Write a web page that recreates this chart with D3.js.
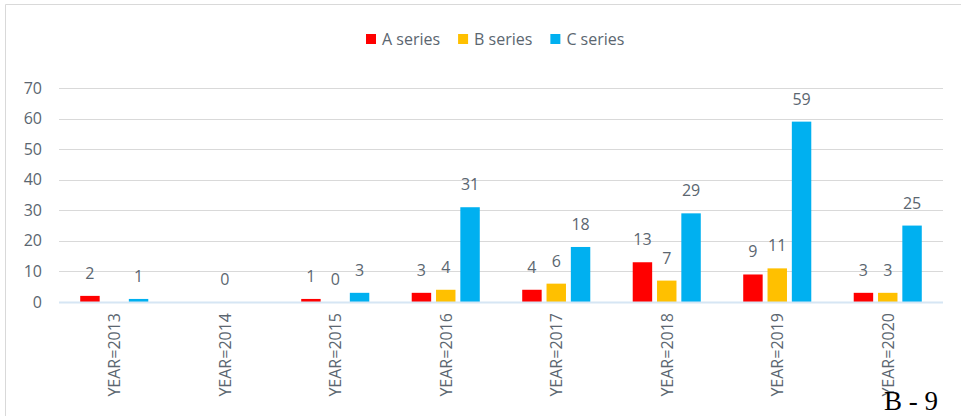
<!DOCTYPE html>
<html lang="en">

<head>
    <meta charset="utf-8">
    <script src="https://d3js.org/d3.v7.min.js"></script>
    <style>
        body { margin: 0; background: #ffffff; }
        text { font-family: "Open Sans", "Liberation Sans", sans-serif; }
    </style>
</head>

<body>
    <div id="my_dataviz"></div>
</body>

<script>
    // data (null = no bar / no label)
    const years = ["YEAR=2013", "YEAR=2014", "YEAR=2015", "YEAR=2016", "YEAR=2017", "YEAR=2018", "YEAR=2019", "YEAR=2020"];
    const seriesNames = ["A series", "B series", "C series"];
    const seriesColors = ["#ff0000", "#ffc000", "#00b0f0"];
    const aValues = [2, null, 1, 3, 4, 13, 9, 3];
    const bValues = [null, 0, 0, 4, 6, 7, 11, 3];
    const cValues = [1, null, 3, 31, 18, 29, 59, 25];
    const yTicks = [0, 10, 20, 30, 40, 50, 60, 70];

    const W = 961, H = 416;
    const margin = { top: 88, right: 18, bottom: 114, left: 59 },
        width = W - margin.left - margin.right,
        height = H - margin.top - margin.bottom;
    const textColor = "#5b6670";

    const svg = d3.select("#my_dataviz")
        .append("svg")
        .attr("width", W)
        .attr("height", H);

    // outer frame (only top and left edges are visible)
    svg.append("path")
        .attr("d", `M5.5,${H} L5.5,4.5 L${W},4.5`)
        .attr("fill", "none")
        .attr("stroke", "#d9d9d9");

    const g = svg.append("g")
        .attr("transform", `translate(${margin.left},${margin.top})`);

    const x = d3.scaleBand()
        .domain(years)
        .range([0, width])
        .padding(0);

    const x1 = d3.scaleBand()
        .domain(seriesNames)
        .range([0, x.bandwidth()])
        .paddingInner(0.2)
        .paddingOuter(0.873);

    const y = d3.scaleLinear()
        .domain([0, 70])
        .range([height, 0]);

    // grid lines
    g.append("g")
        .selectAll("line")
        .data(yTicks.filter(d => d > 0))
        .join("line")
        .attr("x1", 0)
        .attr("x2", width)
        .attr("y1", d => Math.round(y(d)) + 0.5)
        .attr("y2", d => Math.round(y(d)) + 0.5)
        .attr("stroke", "#d9d9d9");

    // y axis labels
    const yAxis = g.append("g")
        .call(d3.axisLeft(y).tickValues(yTicks).tickSize(0).tickPadding(17));
    yAxis.select(".domain").remove();
    yAxis.selectAll("text")
        .attr("fill", textColor)
        .style("font-size", "16px")
        .style("font-family", "'Open Sans', sans-serif");

    // bars
    const rows = years.map((yr, i) => ({
        year: yr,
        vals: [
            { s: seriesNames[0], v: aValues[i], c: seriesColors[0] },
            { s: seriesNames[1], v: bValues[i], c: seriesColors[1] },
            { s: seriesNames[2], v: cValues[i], c: seriesColors[2] }
        ]
    }));

    const groups = g.selectAll("g.year")
        .data(rows)
        .join("g")
        .attr("class", "year")
        .attr("transform", d => `translate(${x(d.year)},0)`);

    groups.selectAll("rect")
        .data(d => d.vals.filter(e => e.v !== null))
        .join("rect")
        .attr("x", d => x1(d.s))
        .attr("y", d => y(d.v))
        .attr("width", x1.bandwidth())
        .attr("height", d => height - y(d.v))
        .attr("fill", d => d.c);

    groups.selectAll("text")
        .data(d => d.vals.filter(e => e.v !== null))
        .join("text")
        .attr("x", d => x1(d.s) + x1.bandwidth() / 2)
        .attr("y", d => y(d.v) - 17)
        .attr("text-anchor", "middle")
        .attr("fill", textColor)
        .style("font-size", "16px")
        .text(d => d.v);

    // x axis baseline
    g.append("line")
        .attr("x1", 0)
        .attr("x2", width)
        .attr("y1", height + 0.5)
        .attr("y2", height + 0.5)
        .attr("stroke", "#d6e6f4")
        .attr("stroke-width", 2);

    // x labels, rotated
    g.append("g")
        .selectAll("text")
        .data(years)
        .join("text")
        .attr("transform", d => `translate(${x(d) + x.bandwidth() / 2 + 6},${height + 11}) rotate(-90)`)
        .attr("text-anchor", "end")
        .attr("fill", textColor)
        .style("font-size", "16px")
        .text(d => d);

    // legend
    const legend = svg.append("g")
        .attr("transform", "translate(366,0)");
    let lx = 0;
    seriesNames.forEach((name, i) => {
        legend.append("rect")
            .attr("x", lx)
            .attr("y", 34)
            .attr("width", 10)
            .attr("height", 10)
            .attr("fill", seriesColors[i]);
        const t = legend.append("text")
            .attr("x", lx + 16)
            .attr("y", 45)
            .attr("fill", textColor)
            .style("font-size", "16px")
            .text(name);
        lx += 16 + t.node().getComputedTextLength() + 18;
    });

    // page tag in the corner
    svg.append("text")
        .attr("x", 884)
        .attr("y", 410)
        .attr("fill", "#000000")
        .style("font-family", "'Liberation Serif', 'Times New Roman', serif")
        .style("font-size", "27px")
        .text("B - 9");
</script>

</html>
